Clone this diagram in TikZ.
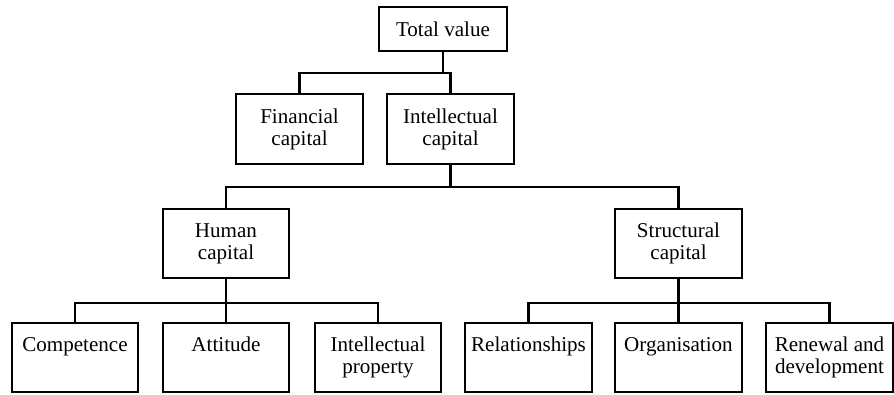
\documentclass[tikz,border=0pt]{standalone}
\usepackage{fontspec}
\setmainfont{Liberation Serif}
\tikzset{
  % box in cima
  top box/.style={draw, line width=1.4pt, minimum width=2.55cm, minimum height=0.87cm,
    inner sep=0pt, font=\fontsize{12}{12.5}\selectfont},
  % box del livello intermedio
  mid box/.style={top box, minimum width=2.53cm, minimum height=1.39cm, align=center},
  % box in fondo (testo in alto)
  leaf box/.style={top box, minimum width=2.53cm, minimum height=1.39cm},
  tree line/.style={line width=1.4pt}
}
\newcommand{\leaftext}[1]{\parbox[c][1.39cm][t]{2.53cm}{\centering\rule{0pt}{0.58cm}#1}}

\begin{document}
\begin{tikzpicture}[x=0.02cm, y=-0.02cm]
  \useasboundingbox (0,0) rectangle (894,395);

  \node[top box] (total) at (443,29) {Total value};

  \node[mid box] (fin)   at (299.5,129) {Financial\\capital};
  \node[mid box] (intel) at (450.5,129) {Intellectual\\capital};

  \node[mid box] (human)  at (226,243.5) {Human\\capital};
  \node[mid box] (struct) at (678.5,243.5) {Structural\\capital};

  \node[leaf box] (comp) at (75,357.5)    {\leaftext{Competence}};
  \node[leaf box] (att)  at (226,357.5)   {\leaftext{Attitude}};
  \node[leaf box] (prop) at (378,357.5)   {\leaftext{Intellectual\\property}};
  \node[leaf box] (rel)  at (528.5,357.5) {\leaftext{Relationships}};
  \node[leaf box] (org)  at (678.5,357.5) {\leaftext{Organisation}};
  \node[leaf box] (ren)  at (829.5,357.5) {\leaftext{Renewal and\\development}};

  % collegamenti
  \coordinate (bus1) at (443,73);
  \draw[tree line] (total) -- (bus1);
  \draw[tree line] (fin) |- (bus1) -| (intel);

  \coordinate (bus2) at (450.5,187);
  \draw[tree line] (intel) -- (bus2);
  \draw[tree line] (human) |- (bus2) -| (struct);

  \coordinate (hbus) at (226,303);
  \draw[tree line] (human) -- (hbus) -- (att);
  \draw[tree line] (comp) |- (hbus) -| (prop);

  \coordinate (sbus) at (678.5,303);
  \draw[tree line] (struct) -- (sbus) -- (org);
  \draw[tree line] (rel) |- (sbus) -| (ren);
\end{tikzpicture}
\end{document}
